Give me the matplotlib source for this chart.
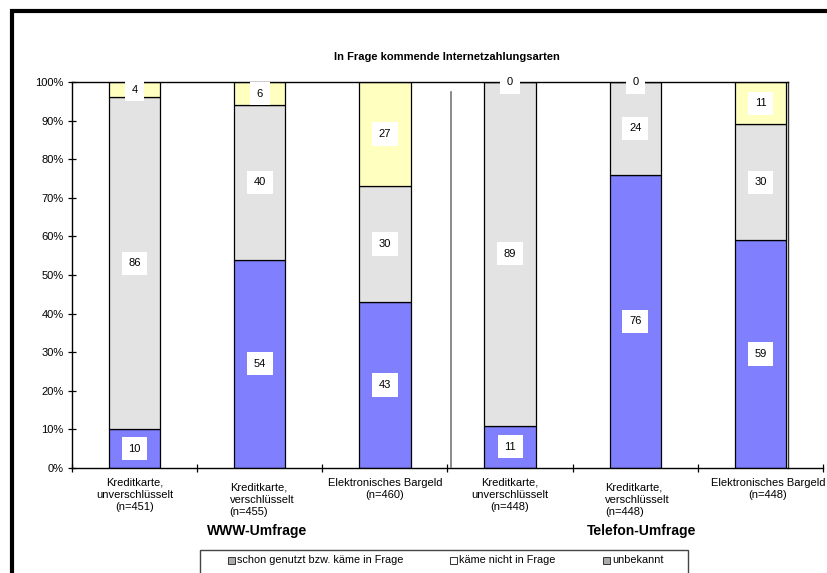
import matplotlib.pyplot as plt
from matplotlib.patches import Rectangle
from matplotlib.lines import Line2D

plt.rcParams['font.family'] = ['Liberation Sans', 'DejaVu Sans']

# data
categories = [
    "Kreditkarte,\nunverschlüsselt\n(n=451)",
    "Kreditkarte,\nverschlüsselt\n(n=455)",
    "Elektronisches Bargeld\n(n=460)",
    "Kreditkarte,\nunverschlüsselt\n(n=448)",
    "Kreditkarte,\nverschlüsselt\n(n=448)",
    "Elektronisches Bargeld\n(n=448)",
]
genutzt = [10, 54, 43, 11, 76, 59]
nicht_in_frage = [86, 40, 30, 89, 24, 30]
unbekannt = [4, 6, 27, 0, 0, 11]
series_names = ["schon genutzt bzw. käme in Frage", "käme nicht in Frage", "unbekannt"]
groups = ["WWW-Umfrage", "Telefon-Umfrage"]
title = "In Frage kommende Internetzahlungsarten"

colors = ["#8080ff", "#e3e3e3", "#ffffc0"]

fig = plt.figure(figsize=(8.27, 5.73), dpi=100)
ax = fig.add_axes([72 / 827, 1 - 468 / 573, 751 / 827, 386 / 573])

x = list(range(len(categories)))
width = 0.41
bottom = [0] * len(x)
for vals, col in zip([genutzt, nicht_in_frage, unbekannt], colors):
    ax.bar(x, vals, width, bottom=bottom, color=col, edgecolor="black", linewidth=0.9, zorder=2)
    for xi, b, v in zip(x, bottom, vals):
        yc = b + v / 2 if v > 0 else 100
        ax.text(xi, yc, str(v), ha="center", va="center", fontsize=8, zorder=4,
                bbox=dict(boxstyle="square,pad=0.6", fc="white", ec="none"))
    bottom = [b + v for b, v in zip(bottom, vals)]

ax.set_xlim(-0.5, 5.5)
ax.set_ylim(0, 100)
ax.set_yticks(range(0, 101, 10))
ax.set_yticklabels([f"{v}%" for v in range(0, 101, 10)], fontsize=8)
ax.set_xticks([i - 0.5 for i in range(len(categories) + 1)])
ax.set_xticklabels([])
ax.tick_params(axis="both", direction="inout", length=6, width=0.9, color="black")
ax.tick_params(axis="y", pad=3)
for s in ["top", "right"]:
    ax.spines[s].set_visible(False)
for s in ["left", "bottom"]:
    ax.spines[s].set_linewidth(1.0)

# top border and right frame line of plot area
rx = (788 - 72) / 751
ax.add_line(Line2D([0, rx], [1, 1], transform=ax.transAxes, color="black", lw=1.0, clip_on=False, zorder=3))
ax.add_line(Line2D([rx, rx], [0, 1], transform=ax.transAxes, color="#333333", lw=1.0, clip_on=False))
# divider between surveys
ax.plot([2.527, 2.527], [0, 97.4], color="#777777", lw=1.2, zorder=3)

# category labels
trans = ax.get_xaxis_transform()
for i, lab in enumerate(categories):
    if i in (1, 4):
        ax.text(i - 0.24, -0.038, lab, transform=trans, ha="left", va="top", fontsize=8, linespacing=1.25)
    else:
        xo = 0.06 if i == 5 else 0
        ax.text(i + xo, -0.025, lab, transform=trans, ha="center", va="top", fontsize=8,
                linespacing=1.3, multialignment="center")

for gx, g in zip([0.98, 4.05], groups):
    ax.text(gx, -0.145, g, transform=trans, ha="center", va="top", fontsize=10, fontweight="bold")

fig.text(447 / 827, 1 - 57 / 573, title, ha="center", va="center", fontsize=8, fontweight="bold")

# legend box (cropped at bottom)
fig.add_artist(Rectangle((200 / 827, -0.05), 488 / 827, 0.05 + 23 / 573, transform=fig.transFigure,
                         fc="white", ec="#444444", lw=1.0))
leg_fc = ["#aaaaaa", "white", "#aaaaaa"]
for lx, name, fc in zip([228, 450, 603], series_names, leg_fc):
    fig.add_artist(Rectangle((lx / 827, 1 - 564 / 573), 7 / 827, 7 / 573, transform=fig.transFigure,
                             fc=fc, ec="#333333", lw=0.7))
    fig.text((lx + 9) / 827, 1 - 560 / 573, name, ha="left", va="center", fontsize=7.8)

# outer frame (cropped)
fig.add_artist(Rectangle((11.5 / 827, -0.1), 1.2, 1.1 - 11.5 / 573, transform=fig.transFigure,
                         fc="none", ec="black", lw=3))

fig.savefig("out.png", dpi=100)
